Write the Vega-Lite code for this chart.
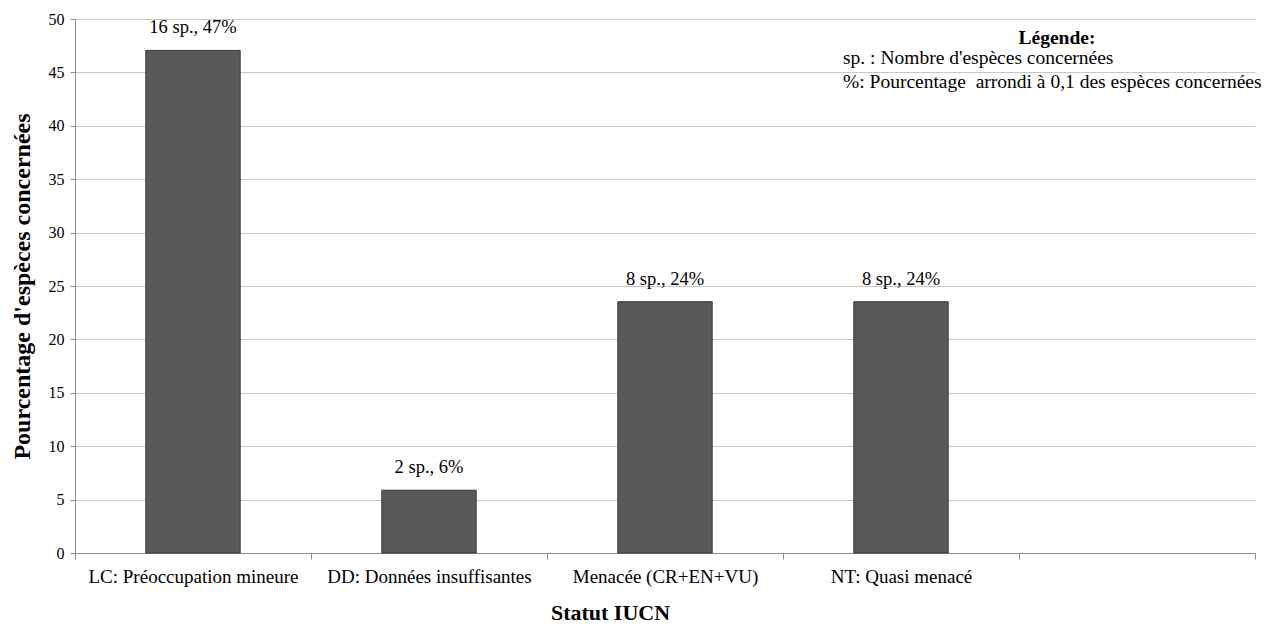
{
  "$schema": "https://vega.github.io/schema/vega-lite/v6.json",
  "autosize": "none",
  "width": 1180,
  "height": 534,
  "padding": {"left": 75, "top": 19, "right": 24, "bottom": 75},
  "background": "white",
  "config": {
    "view": {"stroke": null},
    "font": "Liberation Serif"
  },
  "title": {
    "text": "\u200b\u00a0\u00a0\u00a0\u00a0\u00a0\u00a0\u00a0\u00a0\u00a0\u00a0\u00a0\u00a0\u00a0\u00a0\u00a0\u00a0\u00a0\u00a0\u00a0\u00a0\u00a0\u00a0\u00a0\u00a0\u00a0\u00a0\u00a0\u00a0\u00a0\u00a0\u00a0\u00a0\u00a0\u00a0\u00a0\u00a0Légende:",
    "subtitle": ["sp. : Nombre d'espèces concernées", "%: Pourcentage\u00a0 arrondi à 0,1 des espèces concernées"],
    "anchor": "start",
    "frame": "group",
    "align": "left",
    "dx": 768,
    "orient": "top",
    "offset": -81,
    "font": "Liberation Serif",
    "fontSize": 19.5,
    "fontWeight": "bold",
    "color": "black",
    "subtitleFont": "Liberation Serif",
    "subtitleFontSize": 19.5,
    "subtitleLineHeight": 23.5,
    "subtitleColor": "black",
    "subtitlePadding": 1
  },
  "data": {
    "values": [
      {"statut": "LC: Préoccupation mineure", "pct": 47.06, "label": "16 sp., 47%"},
      {"statut": "DD: Données insuffisantes", "pct": 5.88, "label": "2 sp., 6%"},
      {"statut": "Menacée (CR+EN+VU)", "pct": 23.53, "label": "8 sp., 24%"},
      {"statut": "NT: Quasi menacé", "pct": 23.53, "label": "8 sp., 24%"}
    ]
  },
  "encoding": {
    "x": {
      "field": "statut",
      "type": "nominal",
      "sort": null,
      "scale": {
        "domain": ["LC: Préoccupation mineure", "DD: Données insuffisantes", "Menacée (CR+EN+VU)", "NT: Quasi menacé", " "],
        "paddingInner": 0,
        "paddingOuter": 0
      },
      "axis": {
        "title": "Statut IUCN",
        "titleFont": "Liberation Serif",
        "titleFontSize": 22,
        "titleFontWeight": "bold",
        "titleColor": "black",
        "titleX": 535,
        "titlePadding": 16,
        "labelAngle": 0,
        "labelFont": "Liberation Serif",
        "labelFontSize": 19,
        "labelColor": "black",
        "labelPadding": 8,
        "labelLimit": 240,
        "tickBand": "extent",
        "tickSize": 6,
        "tickColor": "#8c8c8c",
        "domainColor": "#8c8c8c",
        "grid": false
      }
    },
    "y": {
      "field": "pct",
      "type": "quantitative",
      "scale": {"domain": [0, 50], "nice": false},
      "axis": {
        "title": "Pourcentage d'espèces concernées",
        "titleFont": "Liberation Serif",
        "titleFontSize": 24,
        "titleFontWeight": "bold",
        "titleColor": "black",
        "titlePadding": 14,
        "values": [0, 5, 10, 15, 20, 25, 30, 35, 40, 45, 50],
        "labelFont": "Liberation Serif",
        "labelFontSize": 16,
        "labelColor": "black",
        "labelPadding": 6,
        "tickSize": 5,
        "tickColor": "#8c8c8c",
        "domainColor": "#8c8c8c",
        "gridColor": "#c8c8c8",
        "grid": true
      }
    }
  },
  "layer": [
    {
      "mark": {"type": "bar", "width": {"band": 0.4}, "color": "#595959", "stroke": "#3a3a3a", "strokeWidth": 1}
    },
    {
      "mark": {"type": "text", "baseline": "bottom", "dy": -13, "font": "Liberation Serif", "fontSize": 18.5, "color": "black"},
      "encoding": {"text": {"field": "label"}}
    }
  ]
}
